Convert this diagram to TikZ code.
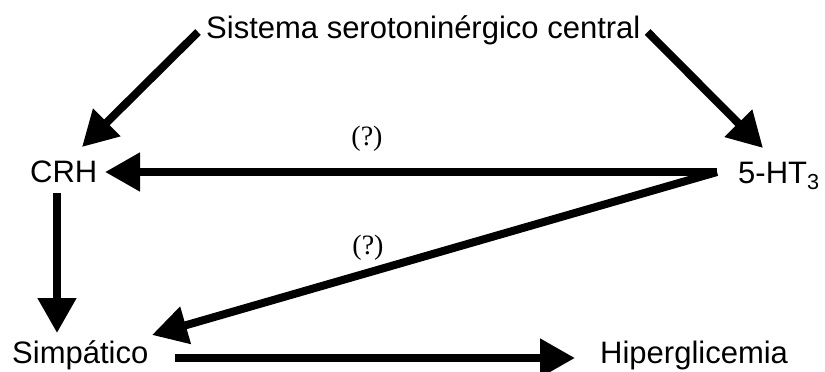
\documentclass[tikz,border=0pt]{standalone}
\usepackage{fontspec}
\setmainfont{Liberation Sans}
\newfontfamily\labelfont{Liberation Serif}
\usetikzlibrary{arrows.meta,calc}

\tikzset{
  term/.style={inner sep=0pt, anchor=base west, font=\fontsize{31}{37}\selectfont},
  qlabel/.style={inner sep=0pt, font=\labelfont\fontsize{28}{32}\selectfont},
  arr/.style={line width=8pt, -{Triangle[length=35pt,width=37pt]}}
}

\begin{document}
\begin{tikzpicture}[x=1pt,y=-1pt]
  \useasboundingbox (0,0) rectangle (825,372);

  % terms
  \node[term] (title) at (206,38)  {Sistema serotoninérgico central};
  \node[term] (crh)   at (30,182)  {CRH};
  \node[term] (ht3)   at (738,183) {5-HT\textsubscript{3}};
  \node[term] (simp)  at (12,363)  {Simpático};
  \node[term] (hiper) at (600,363) {Hiperglicemia};

  % uncertain pathways
  \node[qlabel] (q1) at (367,139) {(?)};
  \node[qlabel] (q2) at (368,248) {(?)};

  % connectors
  \draw[arr] ($(title.base west)+(-8,-6)$) -- ($(crh.base west)+(52,-35)$);
  \draw[arr] ($(title.base east)+(7,-6)$)  -- ($(ht3.base west)+(25,-35)$);
  \draw[arr] ($(ht3.base west)+(-21,-11)$) -- ($(crh.base west)+(75,-10)$);
  \draw[arr] ($(ht3.base west)+(-21,-11)$) -- ($(simp.base west)+(140,-28)$);
  \draw[arr] ($(crh.base west)+(27,11)$)   -- ($(simp.base west)+(45,-30)$);
  \draw[arr] ($(simp.base west)+(163,-5)$) -- ($(hiper.base west)+(-25,-5)$);
\end{tikzpicture}
\end{document}
